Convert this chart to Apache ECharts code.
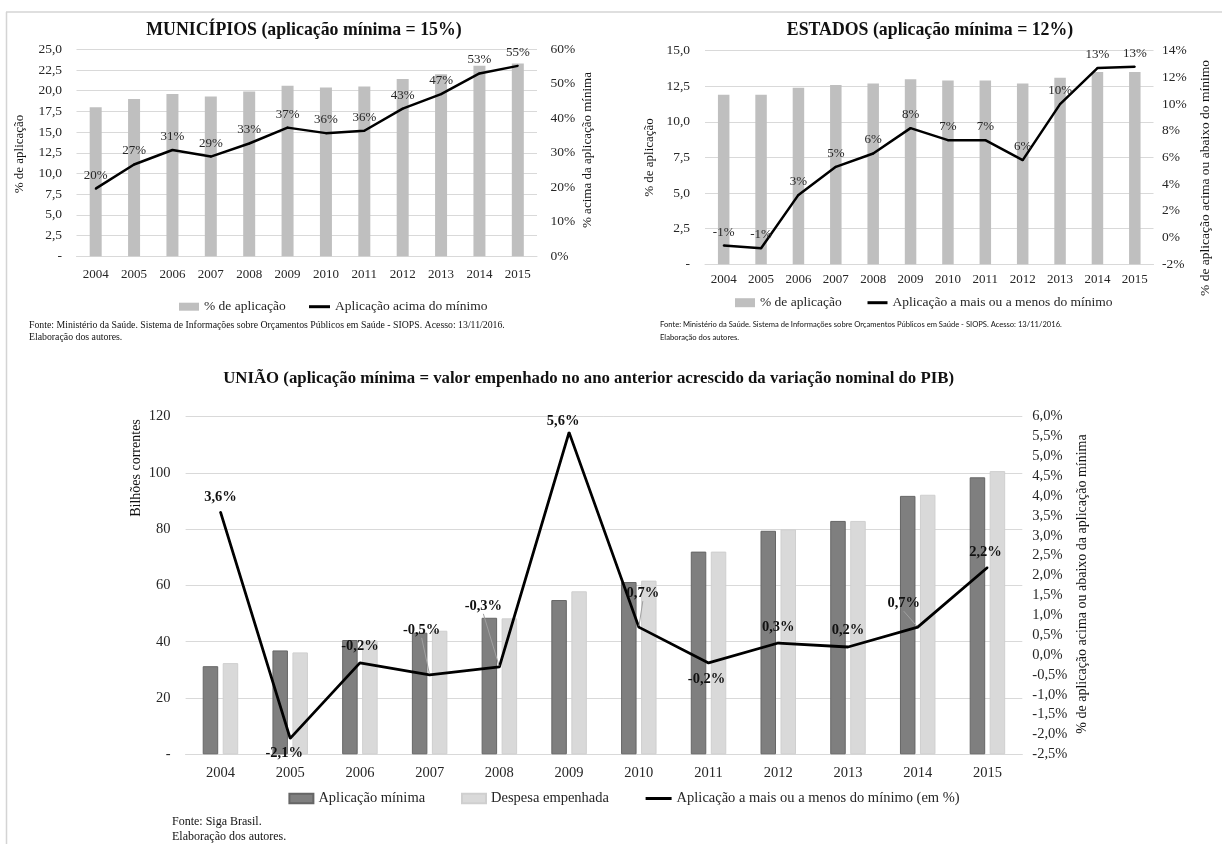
<!DOCTYPE html>
<html>
<head>
<meta charset="utf-8">
<script src="https://cdn.jsdelivr.net/npm/echarts@6/dist/echarts.min.js"></script>
<style>
  html, body { margin: 0; padding: 0; background: #ffffff; }
  #chart { width: 1222px; height: 844px; }
</style>
</head>
<body>
<div id="chart"></div>
<script>
// Categories
const years = ['2004', '2005', '2006', '2007', '2008', '2009', '2010', '2011', '2012', '2013', '2014', '2015'];

// Municípios: % de aplicação (bars) and % acima da aplicação mínima (line)
const munAplicacao = [18.0, 19.0, 19.6, 19.3, 19.9, 20.6, 20.4, 20.5, 21.4, 22.0, 23.0, 23.3];
const munAcimaMinimo = [19.6, 26.6, 30.8, 28.9, 32.7, 37.3, 35.7, 36.4, 42.8, 47.0, 53.0, 55.2];

// Estados: % de aplicação (bars) and % acima/abaixo do mínimo (line)
const estAplicacao = [11.9, 11.9, 12.4, 12.6, 12.7, 13.0, 12.9, 12.9, 12.7, 13.1, 13.5, 13.5];
const estDiferenca = [-0.6, -0.8, 3.2, 5.3, 6.3, 8.2, 7.3, 7.3, 5.8, 10.0, 12.7, 12.8];

// União: bilhões correntes (bars) and % acima/abaixo da aplicação mínima (line)
const uniaoMinima = [31.3, 36.9, 40.6, 43.2, 48.5, 54.8, 61.2, 72.0, 79.4, 82.9, 91.8, 98.4];
const uniaoEmpenhada = [32.4, 36.2, 40.4, 43.9, 48.3, 57.9, 61.7, 72.0, 79.9, 82.9, 92.2, 100.6];
const uniaoDiferenca = [3.6, -2.1, -0.2, -0.5, -0.3, 5.6, 0.7, -0.2, 0.3, 0.2, 0.7, 2.2];

// Axis ranges (min, max, step)
const munLeftAxis = [0, 25, 2.5];
const munRightAxis = [0, 60, 10];
const estLeftAxis = [0, 15, 2.5];
const estRightAxis = [-2, 14, 2];
const uniaoLeftAxis = [0, 120, 20];
const uniaoRightAxis = [-2.5, 6, 0.5];

// Label nudges for the União line labels (dx, dy from the default "top" spot)
const uniaoLabelShift = [[0, -1], [-6, 28], [0, -3], [-8, -31], [-16, -47], [-6, 2], [4, -20], [-2, 30], [0, -2], [0, -3], [-14, -10], [-2, -2]];
const uniaoLeader = [false, false, false, true, true, false, true, false, false, false, true, false];

const SERIF = '"Liberation Serif", "Times New Roman", serif';
const GRID_COLOR = '#d9d9d9';
const TEXT = '#262626';

const comma1 = v => (Math.abs(v) < 1e-9 ? 0 : v).toFixed(1).replace('.', ',');

function valueAxis(grid, range, side, fmt, size, margin, split) {
  return {
    type: 'value', gridIndex: grid, position: side,
    min: range[0], max: range[1], interval: range[2],
    axisLine: { show: false }, axisTick: { show: false },
    splitLine: { show: split, lineStyle: { color: GRID_COLOR, width: 1 } },
    axisLabel: { formatter: fmt, color: TEXT, fontFamily: SERIF, fontSize: size, margin: margin }
  };
}

function catAxis(grid, size, margin) {
  return {
    type: 'category', gridIndex: grid, data: years,
    axisLine: { show: true, lineStyle: { color: GRID_COLOR, width: 1 } },
    axisTick: { show: false },
    axisLabel: { color: TEXT, fontFamily: SERIF, fontSize: size, margin: margin }
  };
}

function legendItem(name, icon, x, cy, w, h, size) {
  return {
    data: [{ name: name, icon: icon }],
    left: x, top: cy - 8, padding: 0,
    itemWidth: w, itemHeight: h,
    selectedMode: false,
    textStyle: { fontFamily: SERIF, fontSize: size, color: TEXT, lineHeight: 16 }
  };
}

function gText(text, x, y, font, rot, align) {
  return {
    type: 'text', x: x, y: y, rotation: rot || 0, silent: true,
    style: { text: text, font: font, fill: '#111', align: align || 'center', verticalAlign: 'middle' }
  };
}

const uniaoLineData = uniaoDiferenca.map((v, i) => ({
  value: v,
  labelLine: { show: uniaoLeader[i], lineStyle: { color: '#a0a0a0', width: 1 } }
}));

const option = {
  animation: false,
  backgroundColor: '#ffffff',
  grid: [
    { left: 76.5, top: 49.3, width: 460.5, height: 207 },
    { left: 705, top: 50.7, width: 448.5, height: 213.6 },
    { left: 185.6, top: 416.5, width: 836.7, height: 337.8 }
  ],
  xAxis: [
    catAxis(0, 13, 12),
    catAxis(1, 13, 9),
    catAxis(2, 14.5, 11)
  ],
  yAxis: [
    valueAxis(0, munLeftAxis, 'left', v => v === 0 ? '-' : comma1(v), 13.5, 14.5, true),
    valueAxis(0, munRightAxis, 'right', v => v + '%', 13.5, 13.5, false),
    valueAxis(1, estLeftAxis, 'left', v => v === 0 ? '-' : comma1(v), 13.5, 15, true),
    valueAxis(1, estRightAxis, 'right', v => v + '%', 13.5, 8.5, false),
    valueAxis(2, uniaoLeftAxis, 'left', v => v === 0 ? '-' : String(v), 14.5, 15, true),
    valueAxis(2, uniaoRightAxis, 'right', v => comma1(v) + '%', 14.5, 10, false)
  ],
  legend: [
    legendItem('% de aplicação', 'rect', 179, 306.7, 20, 8, 13.5),
    legendItem('Aplicação acima do mínimo', 'rect', 309, 306.7, 21, 3, 13.5),
    legendItem('% de aplicação', 'rect', 735, 302.7, 20, 9, 13.5),
    legendItem('Aplicação a mais ou a menos do mínimo', 'rect', 867.5, 302.7, 20, 3, 13.5),
    legendItem('Aplicação mínima', 'rect', 288.4, 798.5, 24, 9.5, 14.5),
    legendItem('Despesa empenhada', 'rect', 461, 798.5, 24, 9.5, 14.5),
    legendItem('Aplicação a mais ou a menos do mínimo (em %)', 'rect', 645.6, 798.5, 26, 3, 14.5)
  ],
  series: [
    {
      name: '% de aplicação', type: 'bar', xAxisIndex: 0, yAxisIndex: 0,
      data: munAplicacao, barWidth: 12, itemStyle: { color: '#bfbfbf' }
    },
    {
      name: 'Aplicação acima do mínimo', type: 'line', xAxisIndex: 0, yAxisIndex: 1,
      data: munAcimaMinimo, symbol: 'circle', symbolSize: 2, itemStyle: { color: '#000' },
      lineStyle: { color: '#000', width: 2.5 },
      label: { show: true, position: 'top', distance: 6, formatter: p => Math.round(p.value) + '%',
        fontFamily: SERIF, fontSize: 13, color: TEXT }
    },
    {
      name: '% de aplicação', type: 'bar', xAxisIndex: 1, yAxisIndex: 2,
      data: estAplicacao, barWidth: 11.5, itemStyle: { color: '#bfbfbf' }
    },
    {
      name: 'Aplicação a mais ou a menos do mínimo', type: 'line', xAxisIndex: 1, yAxisIndex: 3,
      data: estDiferenca, symbol: 'circle', symbolSize: 2, itemStyle: { color: '#000' },
      lineStyle: { color: '#000', width: 2.5 },
      label: { show: true, position: 'top', distance: 6, formatter: p => Math.round(p.value) + '%',
        fontFamily: SERIF, fontSize: 13, color: TEXT }
    },
    {
      name: 'Aplicação mínima', type: 'bar', xAxisIndex: 2, yAxisIndex: 4,
      data: uniaoMinima, barWidth: 15.5, barGap: '29%',
      itemStyle: { color: '#7f7f7f', borderColor: '#666666', borderWidth: 1 }
    },
    {
      name: 'Despesa empenhada', type: 'bar', xAxisIndex: 2, yAxisIndex: 4,
      data: uniaoEmpenhada, barWidth: 15.5, barGap: '29%',
      itemStyle: { color: '#d9d9d9', borderColor: '#cfcfcf', borderWidth: 1 }
    },
    {
      name: 'Aplicação a mais ou a menos do mínimo (em %)', type: 'line', xAxisIndex: 2, yAxisIndex: 5,
      data: uniaoLineData, symbol: 'circle', symbolSize: 2, itemStyle: { color: '#000' },
      lineStyle: { color: '#000', width: 2.8 }, z: 5,
      label: { show: true, position: 'top', distance: 5, formatter: p => comma1(p.value) + '%',
        fontFamily: SERIF, fontSize: 14.5, fontWeight: 'bold', color: '#111' },
      labelLine: { show: false },
      labelLayout: p => ({ dx: uniaoLabelShift[p.dataIndex][0], dy: uniaoLabelShift[p.dataIndex][1] })
    }
  ],
  graphic: [
    // outer frame
    { type: 'line', silent: true, shape: { x1: 6, y1: 12, x2: 1222, y2: 12 }, style: { stroke: '#d4d4d4', lineWidth: 1.5 } },
    { type: 'line', silent: true, shape: { x1: 6.5, y1: 12, x2: 6.5, y2: 844 }, style: { stroke: '#d4d4d4', lineWidth: 1.5 } },
    // titles
    gText('MUNICÍPIOS (aplicação mínima = 15%)', 304, 30, 'bold 17.8px ' + SERIF),
    gText('ESTADOS (aplicação mínima = 12%)', 930, 30, 'bold 17.8px ' + SERIF),
    gText('UNIÃO (aplicação mínima = valor empenhado no ano anterior acrescido da variação nominal do PIB)', 588.6, 379, 'bold 16.8px ' + SERIF),
    // axis titles
    gText('% de aplicação', 20, 154, '13px ' + SERIF, Math.PI / 2),
    gText('% acima da aplicação mínima', 588, 150, '13px ' + SERIF, Math.PI / 2),
    gText('% de aplicação', 650, 157.5, '13px ' + SERIF, Math.PI / 2),
    gText('% de aplicação acima ou abaixo do mínimo', 1205, 178, '13.5px ' + SERIF, Math.PI / 2),
    gText('Bilhões correntes', 136, 468, '14px ' + SERIF, Math.PI / 2),
    gText('% de aplicação acima ou abaixo da aplicação mínima', 1082, 584, '14px ' + SERIF, Math.PI / 2),
    // sources
    gText('Fonte: Ministério da Saúde. Sistema de Informações sobre Orçamentos Públicos em Saúde - SIOPS. Acesso: 13/11/2016.', 29, 325, '9.8px ' + SERIF, 0, 'left'),
    gText('Elaboração dos autores.', 29, 337, '9.8px ' + SERIF, 0, 'left'),
    gText('Fonte: Ministério da Saúde. Sistema de Informações sobre Orçamentos Públicos em Saúde - SIOPS. Acesso: 13/11/2016.', 660, 325, '7.6px Lato, "Liberation Sans", sans-serif', 0, 'left'),
    gText('Elaboração dos autores.', 660, 338, '7.6px Lato, "Liberation Sans", sans-serif', 0, 'left'),
    gText('Fonte: Siga Brasil.', 172, 821.7, '12px ' + SERIF, 0, 'left'),
    gText('Elaboração dos autores.', 172, 836.7, '12px ' + SERIF, 0, 'left')
  ]
};

const chart = echarts.init(document.getElementById('chart'), null, { renderer: 'canvas' });
chart.setOption(option);
</script>
</body>
</html>
